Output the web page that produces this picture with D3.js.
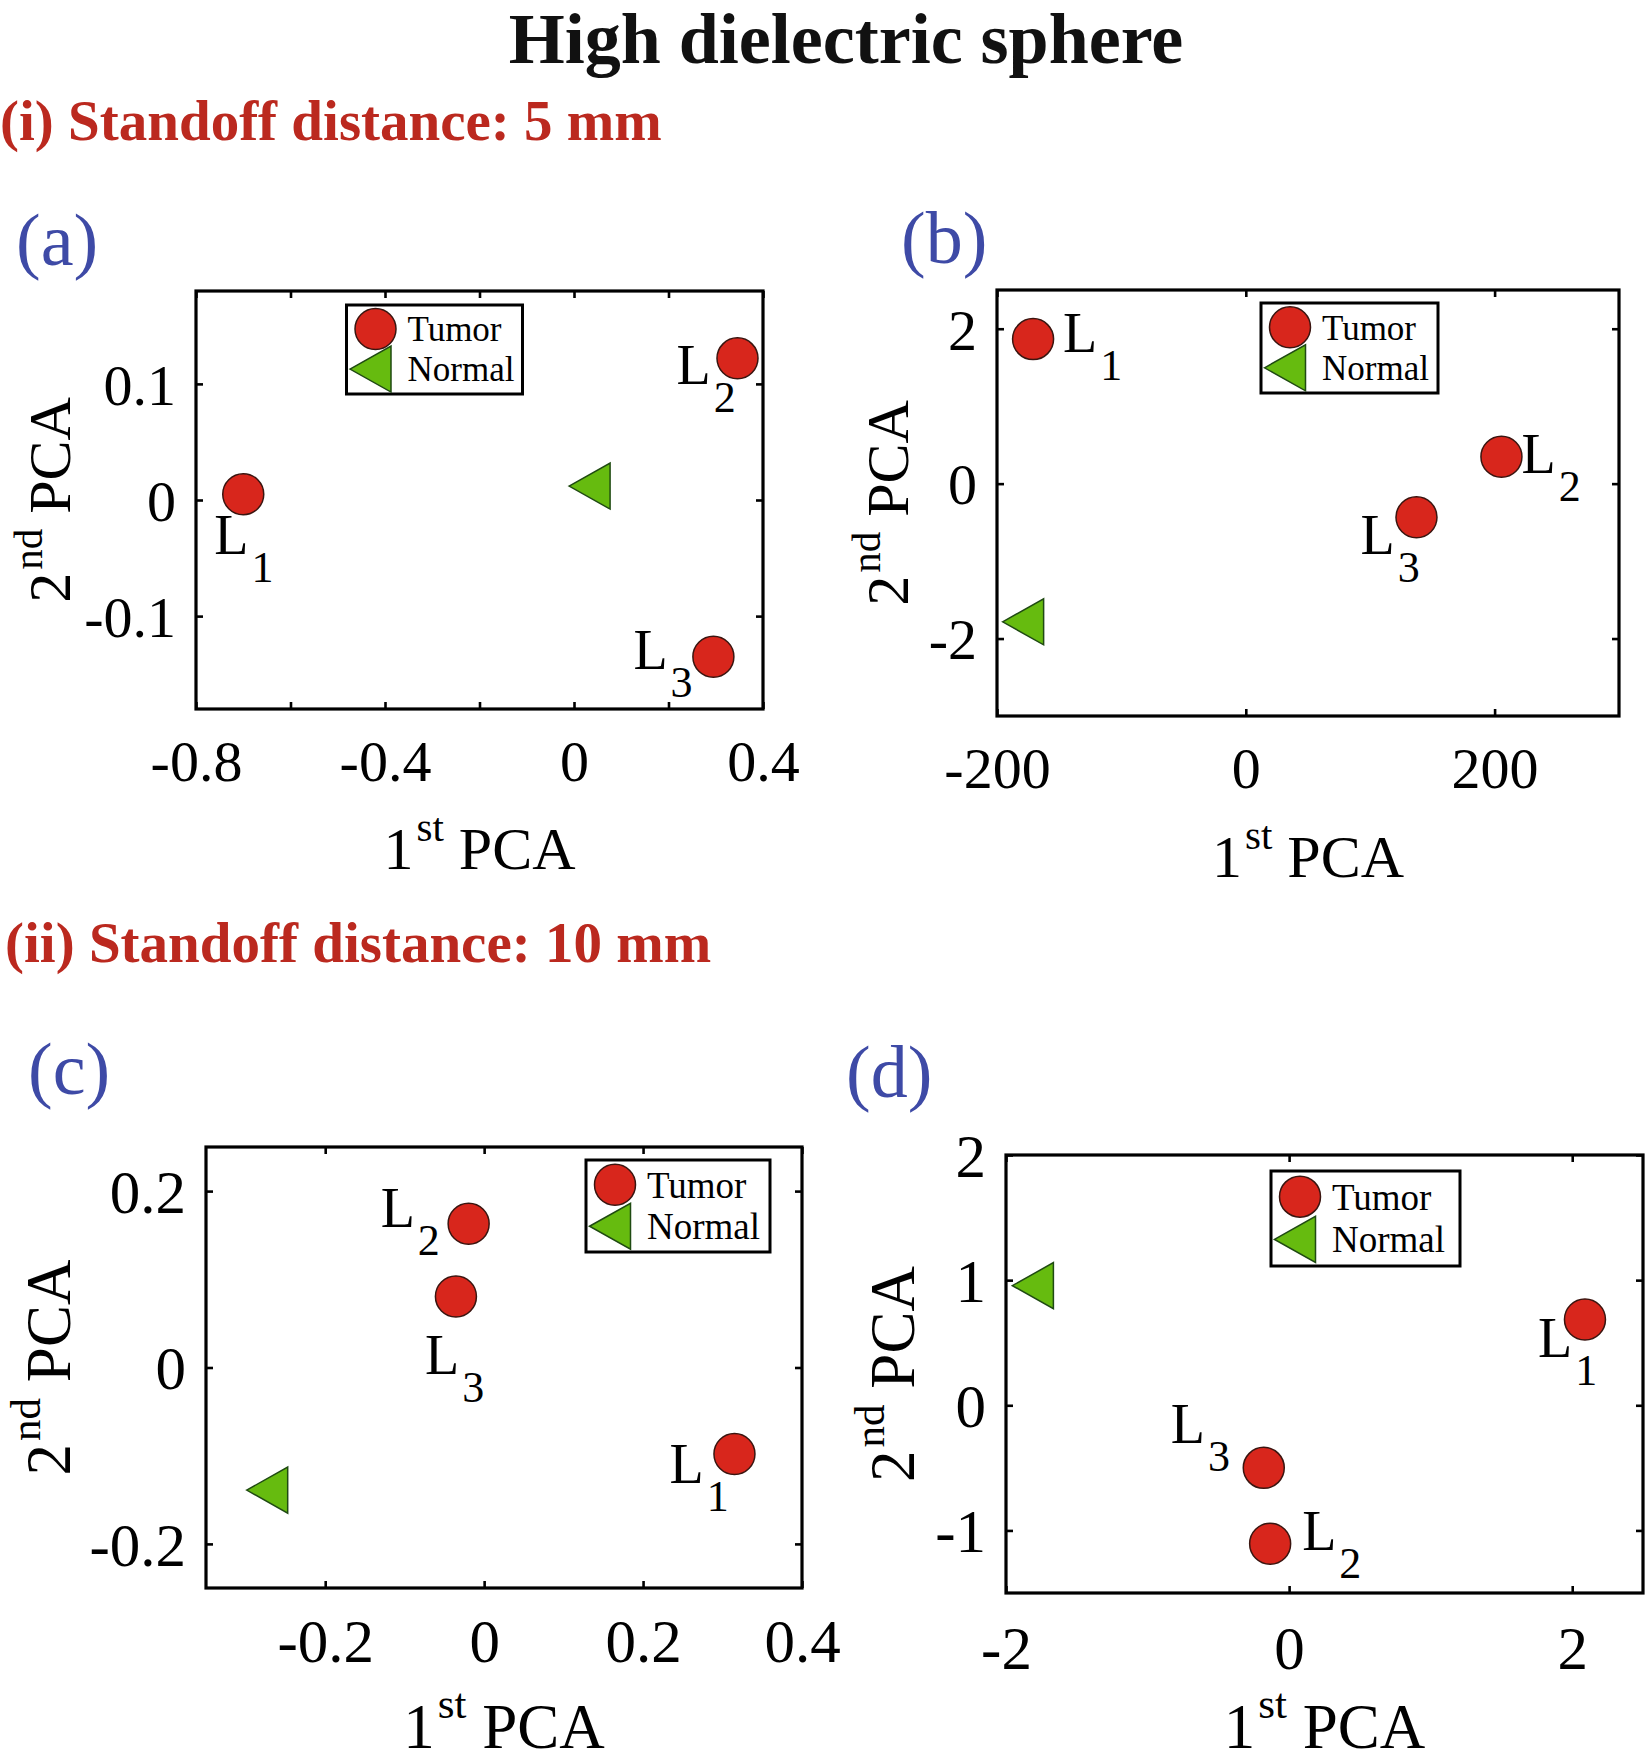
<!DOCTYPE html>
<html><head><meta charset="utf-8">
<script src="https://cdn.jsdelivr.net/npm/d3@7"></script>
<style>
body{margin:0;background:#fff}
svg{display:block}
text{font-family:"Liberation Serif","Times New Roman",Times,serif}
</style>
</head><body>
<svg id="chart" width="1646" height="1764"></svg>
<script>
// ---------------- data ----------------
const mainTitle = "High dielectric sphere";
const sectionTitles = ["(i) Standoff distance: 5 mm", "(ii) Standoff distance: 10 mm"];
const panelNames = ["(a)", "(b)", "(c)", "(d)"];
const legendNames = ["Tumor", "Normal"];
const pointSubscripts = ["1", "2", "3"];   // L1, L2, L3

// panel (a)
const aXDomain = [-0.8, 0.4], aYDomain = [-0.18, 0.18];
const aXTicks = [-0.8, -0.6, -0.4, -0.2, 0, 0.2, 0.4];
const aXTickLabels = ["-0.8", "", "-0.4", "", "0", "", "0.4"];
const aYTicks = [-0.1, 0, 0.1];
const aYTickLabels = ["-0.1", "0", "0.1"];
const aTumorX = [-0.70, 0.346, 0.295];
const aTumorY = [0.005, 0.122, -0.135];
const aNormalX = [0.033];
const aNormalY = [0.012];

// panel (b)
const bXDomain = [-200, 300], bYDomain = [-3, 2.5];
const bXTicks = [-200, 0, 200];
const bXTickLabels = ["-200", "0", "200"];
const bYTicks = [-2, 0, 2];
const bYTickLabels = ["-2", "0", "2"];
const bTumorX = [-171, 205.5, 137.2];
const bTumorY = [1.866, 0.347, -0.434];
const bNormalX = [-179];
const bNormalY = [-1.784];

// panel (c)
const cXDomain = [-0.35, 0.4], cYDomain = [-0.25, 0.25];
const cXTicks = [-0.2, 0, 0.2, 0.4];
const cXTickLabels = ["-0.2", "0", "0.2", "0.4"];
const cYTicks = [-0.2, 0, 0.2];
const cYTickLabels = ["-0.2", "0", "0.2"];
const cTumorX = [0.315, -0.0195, -0.0355];
const cTumorY = [-0.098, 0.163, 0.0805];
const cNormalX = [-0.273];
const cNormalY = [-0.139];

// panel (d)
const dXDomain = [-2, 2.5], dYDomain = [-1.5, 2];
const dXTicks = [-2, 0, 2];
const dXTickLabels = ["-2", "0", "2"];
const dYTicks = [-1, 0, 1, 2];
const dYTickLabels = ["-1", "0", "1", "2"];
const dTumorX = [2.09, -0.134, -0.179];
const dTumorY = [0.686, -1.107, -0.5];
const dNormalX = [-1.81];
const dNormalY = [0.956];

// ---------------- layout (positions / styles) ----------------
const layout = [
  {box:[196,291,763,709], tag:[16,265], xlabY:869, f:{tick:58, ax:60, sup:41, supdy:28, tpad:31},
   leg:{dx:150.5,dy:14,w:176,h:89,fs:35}, lab:[[-29,60],[-61,26],[-80,12]]},
  {box:[997,290,1619,716], tag:[901,263], xlabY:877, f:{tick:58, ax:60, sup:41, supdy:28, tpad:31},
   leg:{dx:264,dy:13,w:177,h:90,fs:35}, lab:[[30,13],[20,16],[-56,37]]},
  {box:[206,1147,802,1588], tag:[28,1094], xlabY:1748, f:{tick:61, ax:63, sup:43, supdy:30, tpad:31},
   leg:{dx:380,dy:13,w:184,h:92,fs:37}, lab:[[-65,29],[-88,3],[-31,78]]},
  {box:[1006,1155,1643,1593], tag:[846,1097], xlabY:1748, f:{tick:61, ax:63, sup:43, supdy:30, tpad:33},
   leg:{dx:265,dy:16,w:189,h:95,fs:37}, lab:[[-47,38],[32,6],[-93,-25]]}
];
const RED = "#d8261c", RED_EDGE = "#3a1510";
const GREEN = "#66bb0f", GREEN_EDGE = "#1f4a12";
const BLUE = "#3e4aa6", HEAD_RED = "#bb291f";
const R = 20.5, TW = 41, TH = 46;
const L_FS = 56, SUB_FS = 44;

const panels = [
  {xd:aXDomain, yd:aYDomain, xt:aXTicks, xtl:aXTickLabels, yt:aYTicks, ytl:aYTickLabels, tx:aTumorX, ty:aTumorY, nx:aNormalX, ny:aNormalY},
  {xd:bXDomain, yd:bYDomain, xt:bXTicks, xtl:bXTickLabels, yt:bYTicks, ytl:bYTickLabels, tx:bTumorX, ty:bTumorY, nx:bNormalX, ny:bNormalY},
  {xd:cXDomain, yd:cYDomain, xt:cXTicks, xtl:cXTickLabels, yt:cYTicks, ytl:cYTickLabels, tx:cTumorX, ty:cTumorY, nx:cNormalX, ny:cNormalY},
  {xd:dXDomain, yd:dYDomain, xt:dXTicks, xtl:dXTickLabels, yt:dYTicks, ytl:dYTickLabels, tx:dTumorX, ty:dTumorY, nx:dNormalX, ny:dNormalY}
];

const svg = d3.select("#chart");

// headings
svg.append("text").attr("x", 846).attr("y", 63).attr("text-anchor", "middle")
  .attr("font-size", 72).attr("font-weight", "bold").attr("fill", "#111").text(mainTitle);
svg.append("text").attr("x", 0).attr("y", 140).attr("font-size", 57).attr("font-weight", "bold")
  .attr("fill", HEAD_RED).text(sectionTitles[0]);
svg.append("text").attr("x", 5).attr("y", 962).attr("font-size", 57).attr("font-weight", "bold")
  .attr("fill", HEAD_RED).text(sectionTitles[1]);

function triPath(cx, cy) {
  const p = d3.path();
  p.moveTo(cx - TW / 2, cy);
  p.lineTo(cx + TW / 2, cy - TH / 2);
  p.lineTo(cx + TW / 2, cy + TH / 2);
  p.closePath();
  return p.toString();
}

panels.forEach((P, i) => {
  const L = layout[i];
  const F = L.f;
  const [x0, y0, x1, y1] = L.box;
  const x = d3.scaleLinear().domain(P.xd).range([x0, x1]);
  const y = d3.scaleLinear().domain(P.yd).range([y1, y0]);
  const g = svg.append("g");

  // panel tag
  svg.append("text").attr("x", L.tag[0]).attr("y", L.tag[1]).attr("font-size", 74)
    .attr("fill", BLUE).text(panelNames[i]);

  const xFmt = v => P.xtl[P.xt.indexOf(v)];
  const yFmt = v => P.ytl[P.yt.indexOf(v)];

  // axes with inward ticks
  const gb = g.append("g").attr("transform", `translate(0,${y1})`)
    .call(d3.axisBottom(x).tickValues(P.xt).tickFormat(xFmt).tickSizeInner(-7).tickSizeOuter(0).tickPadding(F.tpad));
  const gt = g.append("g").attr("transform", `translate(0,${y0})`)
    .call(d3.axisTop(x).tickValues(P.xt).tickFormat("").tickSizeInner(-7).tickSizeOuter(0));
  const gl = g.append("g").attr("transform", `translate(${x0},0)`)
    .call(d3.axisLeft(y).tickValues(P.yt).tickFormat(yFmt).tickSizeInner(-7).tickSizeOuter(0).tickPadding(20));
  const gr = g.append("g").attr("transform", `translate(${x1},0)`)
    .call(d3.axisRight(y).tickValues(P.yt).tickFormat("").tickSizeInner(-7).tickSizeOuter(0));
  [gb, gt, gl, gr].forEach(a => {
    a.select(".domain").remove();
    a.selectAll(".tick line").attr("stroke", "#000").attr("stroke-width", 2.6);
    a.selectAll(".tick text").attr("font-family", '"Liberation Serif","Times New Roman",serif')
      .attr("font-size", F.tick).attr("fill", "#000");
  });
  gb.selectAll(".tick text").attr("dy", "0.71em");
  gl.selectAll(".tick text").attr("dy", "0.35em");

  // box
  g.append("rect").attr("x", x0).attr("y", y0).attr("width", x1 - x0).attr("height", y1 - y0)
    .attr("fill", "none").attr("stroke", "#000").attr("stroke-width", 3.2);

  // x label
  const xl = g.append("text").attr("x", (x0 + x1) / 2).attr("y", L.xlabY)
    .attr("text-anchor", "middle").attr("font-size", F.ax).attr("fill", "#000");
  xl.append("tspan").text("1");
  xl.append("tspan").attr("font-size", F.sup).attr("dy", -F.supdy).attr("dx", 3).text("st");
  xl.append("tspan").attr("dy", F.supdy).text(" PCA");

  // y label: placed left of the widest tick label
  let minLeft = x0;
  gl.selectAll(".tick text").each(function () {
    const b = this.getBBox();
    const left = x0 + b.x;
    if (this.textContent && left < minLeft) minLeft = left;
  });
  const ylx = Math.max(minLeft - 21, 70), yly = (y0 + y1) / 2;
  const yl = g.append("text").attr("transform", `translate(${ylx},${yly}) rotate(-90)`)
    .attr("text-anchor", "middle").attr("font-size", F.ax).attr("fill", "#000");
  yl.append("tspan").text("2");
  yl.append("tspan").attr("font-size", F.sup).attr("dy", -F.supdy).attr("dx", 3).text("nd");
  yl.append("tspan").attr("dy", F.supdy).text(" PCA");

  // normal markers
  g.selectAll(".nrm").data(P.nx.map((v, k) => [v, P.ny[k]])).enter().append("path")
    .attr("d", d => triPath(x(d[0]), y(d[1])))
    .attr("fill", GREEN).attr("stroke", GREEN_EDGE).attr("stroke-width", 1.5).attr("stroke-linejoin", "miter");

  // tumor markers
  const tum = P.tx.map((v, k) => ({x: v, y: P.ty[k], s: pointSubscripts[k], off: L.lab[k]}));
  g.selectAll(".tum").data(tum).enter().append("circle")
    .attr("cx", d => x(d.x)).attr("cy", d => y(d.y)).attr("r", R)
    .attr("fill", RED).attr("stroke", RED_EDGE).attr("stroke-width", 1.5);

  // point labels L_k
  tum.forEach(d => {
    const t = g.append("text").attr("x", x(d.x) + d.off[0]).attr("y", y(d.y) + d.off[1])
      .attr("font-size", L_FS).attr("fill", "#000");
    t.append("tspan").text("L");
    t.append("tspan").attr("font-size", SUB_FS).attr("dx", 3).attr("dy", 28).text(d.s);
  });

  // legend
  const lg = L.leg;
  const lx = x0 + lg.dx, ly = y0 + lg.dy;
  const leg = g.append("g");
  leg.append("rect").attr("x", lx).attr("y", ly).attr("width", lg.w).attr("height", lg.h)
    .attr("fill", "#fff").attr("stroke", "#000").attr("stroke-width", 3);
  leg.append("circle").attr("cx", lx + 29).attr("cy", ly + lg.h * 0.27).attr("r", R)
    .attr("fill", RED).attr("stroke", RED_EDGE).attr("stroke-width", 1.5);
  leg.append("path").attr("d", triPath(lx + 24, ly + lg.h * 0.72))
    .attr("fill", GREEN).attr("stroke", GREEN_EDGE).attr("stroke-width", 1.5);
  leg.append("text").attr("x", lx + 61).attr("y", ly + lg.h * 0.41).attr("font-size", lg.fs)
    .attr("fill", "#000").text(legendNames[0]);
  leg.append("text").attr("x", lx + 61).attr("y", ly + lg.h * 0.855).attr("font-size", lg.fs)
    .attr("fill", "#000").text(legendNames[1]);
});
</script>
</body></html>
